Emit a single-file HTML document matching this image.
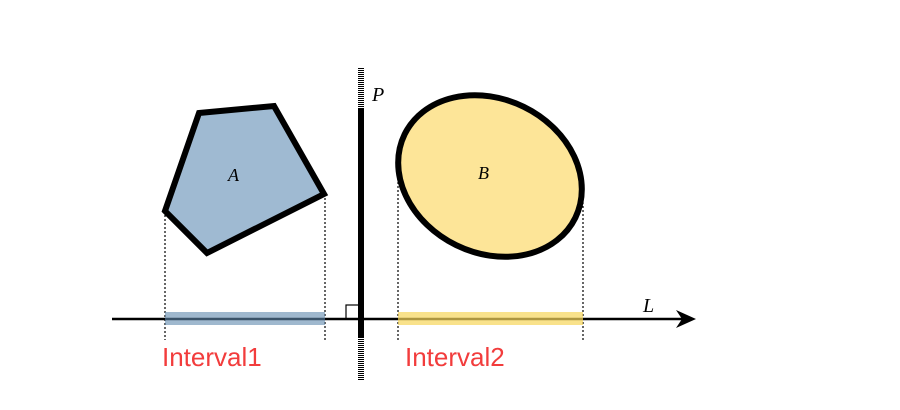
<!DOCTYPE html>
<html><head><style>body{margin:0;background:#fff}</style></head><body>
<svg width="900" height="405" xmlns="http://www.w3.org/2000/svg">
<rect width="900" height="405" fill="#fff"/>
<g stroke="#000" stroke-width="1.2" stroke-dasharray="2,2">
<line x1="165" y1="211" x2="165" y2="340"/>
<line x1="325" y1="194" x2="325" y2="340"/>
<line x1="398" y1="170" x2="398" y2="340"/>
<line x1="583" y1="190" x2="583" y2="340"/>
</g>
<polygon points="199,113 274,106 324,194 207,253 165,211" fill="#9fbad2" stroke="#000" stroke-width="6" stroke-linejoin="miter"/>
<ellipse cx="490" cy="176" rx="95" ry="77" transform="rotate(26 490 176)" fill="#fde598" stroke="#000" stroke-width="6"/>
<line x1="112" y1="319" x2="685" y2="319" stroke="#000" stroke-width="2.5"/>
<polygon points="696,319 676,310 682,319 676,328" fill="#000"/>
<rect x="165" y="312" width="160" height="13" fill="#5f88ad" opacity="0.6"/>
<rect x="398" y="312" width="185" height="13" fill="#f7d55a" opacity="0.7"/>
<rect x="346" y="305" width="14" height="14" fill="none" stroke="#000" stroke-width="1.2"/>
<line x1="361" y1="68" x2="361" y2="108" stroke="#000" stroke-width="6" stroke-dasharray="1,1"/>
<line x1="361" y1="108" x2="361" y2="337" stroke="#000" stroke-width="6"/>
<line x1="361" y1="337" x2="361" y2="381" stroke="#000" stroke-width="6" stroke-dasharray="1,1"/>
<g font-family="Liberation Serif, serif" font-style="italic" font-size="20">
<text x="372" y="101">P</text>
<text x="643" y="312">L</text>
<text x="228" y="181" font-size="18">A</text>
<text x="478" y="179" font-size="18">B</text>
</g>
<g font-family="Liberation Sans, sans-serif" font-size="26" fill="#f23c3c">
<text x="162" y="366">Interval1</text>
<text x="405" y="366">Interval2</text>
</g>
</svg>
</body></html>
